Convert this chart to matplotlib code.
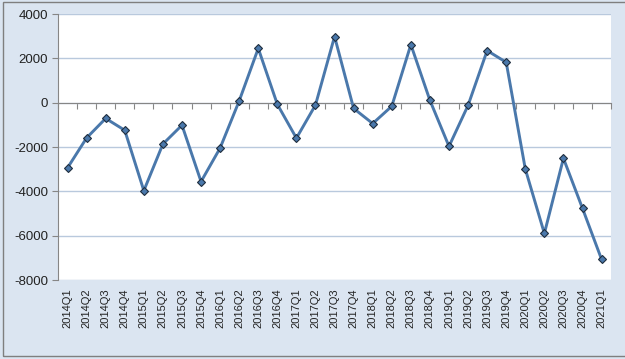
import matplotlib

matplotlib.use("Agg")
import matplotlib.pyplot as plt
from matplotlib.patches import Rectangle
import numpy as np

# quarters and values
quarters = [
    "2014Q1", "2014Q2", "2014Q3", "2014Q4",
    "2015Q1", "2015Q2", "2015Q3", "2015Q4",
    "2016Q1", "2016Q2", "2016Q3", "2016Q4",
    "2017Q1", "2017Q2", "2017Q3", "2017Q4",
    "2018Q1", "2018Q2", "2018Q3", "2018Q4",
    "2019Q1", "2019Q2", "2019Q3", "2019Q4",
    "2020Q1", "2020Q2", "2020Q3", "2020Q4",
    "2021Q1",
]
values = [
    -2940, -1590, -710, -1245,
    -3970, -1865, -1015, -3560,
    -2045, 80, 2450, -75,
    -1600, -105, 2985, -260,
    -940, -160, 2620, 105,
    -1970, -120, 2350, 1820,
    -2990, -5900, -2510, -4770,
    -7070,
]
y_ticks = [-8000, -6000, -4000, -2000, 0, 2000, 4000]

BG = "#dbe5f1"
GRID = "#b9c9dd"
AXIS = "#868686"
LINE = "#4a78ab"

plt.rcParams["font.family"] = ["Liberation Sans", "DejaVu Sans"]

fig = plt.figure(figsize=(6.25, 3.59), dpi=100)
fig.patch.set_facecolor(BG)
fig.patches.append(Rectangle((0.004, 0.007), 1.0, 0.988, transform=fig.transFigure,
                             fill=False, edgecolor="#7f7f7f", lw=1.0))

ax = fig.add_axes([0.0928, 0.22, 0.885, 0.741])
ax.set_facecolor("white")

x = np.arange(len(quarters))
ax.plot(x, values, color=LINE, lw=2.1, marker="D", ms=4.2,
        mfc=LINE, mec="#1f2d3d", mew=0.8, zorder=3)

ax.set_xlim(-0.5, len(quarters) - 0.5)
ax.set_ylim(-8000, 4000)
ax.set_yticks(y_ticks)
ax.set_yticklabels([str(v) for v in y_ticks], fontsize=9.5, color="#222222")
ax.yaxis.grid(True, color=GRID, lw=1.0)
ax.set_axisbelow(True)
ax.tick_params(axis="y", direction="out", length=4, color=AXIS, pad=3)

# category axis crosses at zero, with tick marks between categories
ax.spines["bottom"].set_position(("data", 0))
ax.spines["bottom"].set_color(AXIS)
ax.spines["left"].set_color(AXIS)
for s in ("top", "right"):
    ax.spines[s].set_visible(False)
ax.set_xticks(np.arange(len(quarters) + 1) - 0.5)
ax.tick_params(axis="x", direction="out", length=4, color=AXIS, labelbottom=False)

# labels sit at the bottom of the plot area
sec = ax.secondary_xaxis(0.0)
sec.set_xticks(x)
sec.set_xticklabels(quarters, rotation=90, fontsize=8, color="#222222")
sec.tick_params(length=0, pad=6)
sec.spines["bottom"].set_visible(False)

fig.savefig("out.png", dpi=100, facecolor=BG)
